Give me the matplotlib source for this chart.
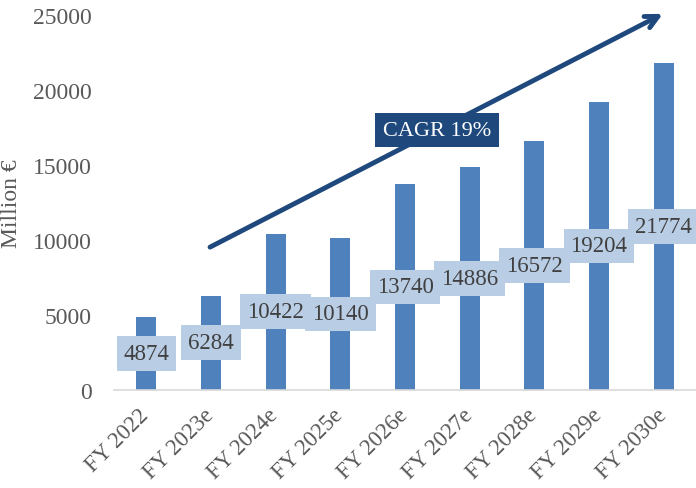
import matplotlib.pyplot as plt
from matplotlib.transforms import ScaledTranslation

plt.rcParams['font.family'] = ['Liberation Serif', 'DejaVu Serif']

years = ['FY 2022', 'FY 2023e', 'FY 2024e', 'FY 2025e', 'FY 2026e',
         'FY 2027e', 'FY 2028e', 'FY 2029e', 'FY 2030e']
revenue = [4874, 6284, 10422, 10140, 13740, 14886, 16572, 19204, 21774]
yticks = [0, 5000, 10000, 15000, 20000, 25000]

bar_color = '#4F81BD'
box_color = '#B9CDE5'
dark_blue = '#1F497D'
text_gray = '#404040'

fig = plt.figure(figsize=(6.96, 4.89), dpi=100)
ax = fig.add_axes([0.1638, 0.2004, 0.8362, 0.7669])

x = range(len(years))
ax.bar(x, revenue, width=0.31, color=bar_color, zorder=2)

# value labels in the middle of each bar
for i, v in zip(x, revenue):
    ax.text(i, v / 2, str(v), ha='center', va='center', fontsize=16.5,
            color=text_gray, zorder=3,
            bbox=dict(boxstyle='square,pad=0.3', fc=box_color, ec='none'))

ax.set_xlim(-0.5, len(years) - 0.5)
ax.set_ylim(0, 25000)
ax.set_yticks(yticks)
ax.set_xticks(list(x))
ax.set_xticklabels(years, rotation=45, ha='right', rotation_mode='anchor')
ax.tick_params(axis='both', length=0, labelcolor='#595959')
ax.tick_params(axis='y', pad=16, labelsize=17)
ax.tick_params(axis='x', pad=10, labelsize=16.5)
# nudge the slanted year labels to sit under their bars
for lbl in ax.get_xticklabels():
    lbl.set_transform(lbl.get_transform() +
                      ScaledTranslation(-0.08, 0, fig.dpi_scale_trans))
ax.set_ylabel('Million €', fontsize=17, color='#595959', labelpad=8)

for s in ['top', 'right', 'left']:
    ax.spines[s].set_visible(False)
ax.spines['bottom'].set_color('#D9D9D9')
ax.spines['bottom'].set_linewidth(1.2)

# growth arrow with CAGR tag
ax.annotate('', xy=(0.943, 1.003), xytext=(0.165, 0.381),
            xycoords='axes fraction', textcoords='axes fraction',
            arrowprops=dict(arrowstyle='->,head_length=0.9,head_width=0.45',
                            color=dark_blue, lw=3.5, shrinkA=0, shrinkB=0),
            annotation_clip=False, zorder=4)
ax.text(0.555, 0.693, 'CAGR 19%', transform=ax.transAxes, ha='center',
        va='center', fontsize=16, color='white', zorder=5,
        bbox=dict(boxstyle='square,pad=0.35', fc=dark_blue, ec='none'))

fig.savefig('out.png', dpi=100)
